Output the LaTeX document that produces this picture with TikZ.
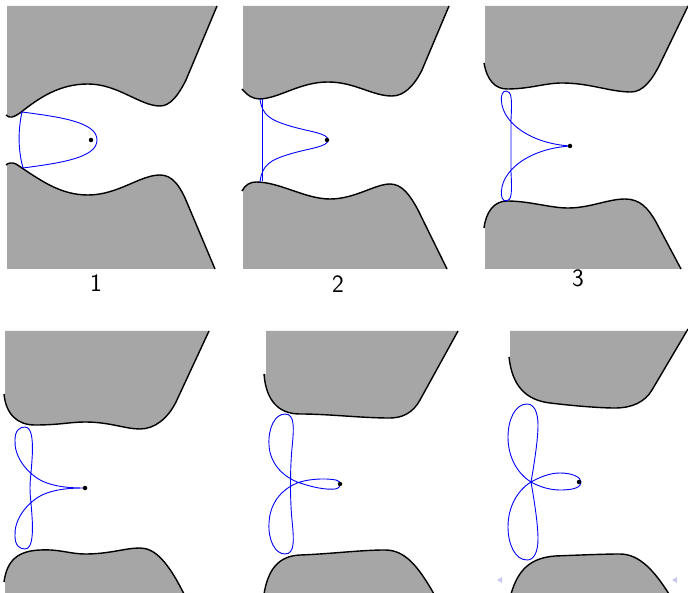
\documentclass[tikz,border=0pt]{standalone}
\usetikzlibrary{calc}
\definecolor{wallgray}{RGB}{166,166,166}
\definecolor{navcol}{RGB}{200,200,238}
\begin{document}
\begin{tikzpicture}[x=1pt,y=-1pt,
  wall/.style={fill=wallgray,draw=none},
  rim/.style={draw=black,line width=1.4pt},
  orbit/.style={draw=blue,line width=0.9pt},
  dotmark/.style={circle,fill=black,inner sep=0pt,minimum size=4.5pt},
  lab/.style={font=\sffamily\fontsize{25}{25}\selectfont,inner sep=0pt}]
\useasboundingbox (0,0) rectangle (688,593);

% ---------- panel 1 ----------
\def\uA{(6,115) .. controls (10,119) and (14,117) .. (20,113) .. controls (40,97) and (60,84) .. (88,84) .. controls (118,84) and (140,106) .. (160,106) .. controls (170,106) and (178,96) .. (186,80) -- (217,6)}
\def\lA{(6,165) .. controls (8,163) and (12,162) .. (16,164) .. controls (40,180) and (60,195) .. (88,195) .. controls (118,195) and (140,175) .. (160,175) .. controls (172,175) and (180,185) .. (188,205) -- (215,269)}
\path[wall] (7,6) -- (7,115) -- \uA -- cycle;
\draw[rim] \uA;
\path[wall] (7,269) -- (7,165) -- \lA -- cycle;
\draw[rim] \lA;
\draw[orbit] (22,112) .. controls (60,117) and (97,122) .. (97,140) .. controls (97,158) and (60,163) .. (23,168) .. controls (18,150) and (18,130) .. (22,112) -- cycle;
\node[dotmark] (d1) at (91,140) {};
\node[lab] (l1) at (96,283) {1};

% ---------- panel 2 ----------
\def\uB{(242,89) .. controls (248,96) and (253,99) .. (260,99) .. controls (280,98) and (300,82) .. (328,82) .. controls (355,82) and (372,96) .. (392,96) .. controls (404,96) and (414,86) .. (422,70) -- (449,6)}
\def\lB{(242,191) .. controls (245,185) and (250,182) .. (256,182) .. controls (280,182) and (305,199) .. (330,199) .. controls (355,199) and (375,184) .. (390,184) .. controls (402,184) and (410,195) .. (418,210) -- (447,269)}
\path[wall] (243,6) -- (243,89) -- \uB -- cycle;
\draw[rim] \uB;
\path[wall] (243,269) -- (243,191) -- \lB -- cycle;
\draw[rim] \lB;
\draw[orbit] (262,99) -- (262,181);
\draw[orbit] (260,99) .. controls (262,115) and (270,120) .. (290,126) .. controls (310,132) and (328,133) .. (328,140) .. controls (328,147) and (310,148) .. (290,154) .. controls (270,160) and (262,165) .. (260,182);
\node[dotmark] (d2) at (327,140) {};
\node[lab] (l2) at (338,284) {2};

% ---------- panel 3 ----------
\def\uC{(484,63) .. controls (487,80) and (495,89) .. (507,89) .. controls (530,89) and (545,83) .. (562,83) .. controls (590,83) and (610,92) .. (631,92) .. controls (643,92) and (652,80) .. (660,64) -- (688,6)}
\def\lC{(484,228) .. controls (486,212) and (494,201) .. (507,201) .. controls (530,201) and (550,208) .. (568,208) .. controls (590,208) and (608,199) .. (625,199) .. controls (640,199) and (648,208) .. (656,222) -- (681,269)}
\path[wall] (485,6) -- (485,63) -- \uC -- cycle;
\draw[rim] \uC;
\path[wall] (485,269) -- (485,228) -- \lC -- cycle;
\draw[rim] \lC;
\draw[orbit] (570,146) .. controls (540,144) and (518,132) .. (508,118) .. controls (500,108) and (499,91) .. (506,91) .. controls (512,91) and (512,100) .. (511,120) -- (511,172) .. controls (512,192) and (512,201) .. (506,201) .. controls (499,201) and (500,184) .. (508,174) .. controls (518,160) and (540,148) .. (570,146);
\node[dotmark] (d3) at (570,146) {};
\node[lab] (l3) at (578,278) {3};

% ---------- panel 4 ----------
\def\uD{(4,394) .. controls (6,415) and (18,425) .. (35,425) .. controls (60,425) and (70,422) .. (85,422) .. controls (110,422) and (125,429) .. (140,429) .. controls (155,429) and (168,418) .. (176,402) -- (209,331)}
\def\lD{(4,582) .. controls (7,560) and (18,551) .. (40,550) .. controls (60,549) and (70,554) .. (85,554) .. controls (110,554) and (125,548) .. (140,548) .. controls (155,548) and (168,562) .. (184,594)}
\path[wall] (5,331) -- (5,394) -- \uD -- cycle;
\draw[rim] \uD;
\path[wall] (5,594) -- (5,582) -- \lD -- cycle;
\draw[rim] \lD;
\draw[orbit] (85,488) .. controls (70,488) and (55,487) .. (42,481) .. controls (25,472) and (14,455) .. (15,440) .. controls (15,430) and (20,427) .. (25,427) .. controls (33,427) and (33,445) .. (32,460) .. controls (31,475) and (30,480) .. (30,488) .. controls (30,496) and (31,501) .. (32,516) .. controls (33,531) and (33,549) .. (25,549) .. controls (20,549) and (15,546) .. (15,536) .. controls (14,521) and (25,504) .. (42,495) .. controls (55,489) and (70,488) .. (85,488);
\node[dotmark] (d4) at (85,488) {};

% ---------- panel 5 ----------
\def\uE{(264,374) .. controls (266,400) and (278,414) .. (300,414) .. controls (330,414) and (360,418) .. (390,418) .. controls (402,418) and (413,413) .. (420,400) -- (458,331)}
\def\lE{(264,594) .. controls (268,570) and (278,556) .. (300,555) .. controls (330,554) and (360,550) .. (385,550) .. controls (405,550) and (418,566) .. (434,594)}
\path[wall] (266,331) -- (266,374) -- \uE -- cycle;
\draw[rim] \uE;
\path[wall] (266,594) -- \lE -- cycle;
\draw[rim] \lE;
\draw[orbit] (285,414) .. controls (275,414) and (268,428) .. (269,445) .. controls (270,465) and (285,478) .. (300,483) .. controls (312,487) and (325,490) .. (335,489) .. controls (342,488) and (342,481) .. (336,480) .. controls (325,478) and (310,479) .. (300,482) .. controls (285,487) and (270,500) .. (269,523) .. controls (268,540) and (275,554) .. (285,554) .. controls (295,554) and (294,540) .. (292,520) .. controls (290,500) and (290,470) .. (292,448) .. controls (294,428) and (295,414) .. (285,414) -- cycle;
\node[dotmark] (d5) at (340,484) {};

% ---------- panel 6 ----------
\def\uF{(509,357) .. controls (512,385) and (525,400) .. (550,403) .. controls (575,406) and (600,408) .. (615,408) .. controls (632,408) and (645,402) .. (652,390) -- (688,329)}
\def\lF{(511,594) .. controls (518,570) and (530,558) .. (555,556) .. controls (580,555) and (605,554) .. (620,554) .. controls (640,554) and (655,572) .. (669,594)}
\path[wall] (510,331) -- (510,357) -- \uF -- (688,331) -- cycle;
\draw[rim] \uF;
\path[wall] (511,594) -- \lF -- cycle;
\draw[rim] \lF;
\draw[orbit] (531,482) .. controls (534,465) and (538,440) .. (538,425) .. controls (538,412) and (534,404) .. (527,404) .. controls (515,404) and (508,420) .. (508,437) .. controls (508,458) and (518,474) .. (531,482) .. controls (540,487) and (550,490) .. (560,490) .. controls (575,490) and (581,487) .. (581,482) .. controls (581,477) and (572,473) .. (560,473) .. controls (550,473) and (540,477) .. (531,482) .. controls (518,490) and (508,506) .. (508,527) .. controls (508,544) and (515,560) .. (527,560) .. controls (534,560) and (538,552) .. (538,539) .. controls (538,524) and (534,499) .. (531,482) -- cycle;
\node[dotmark] (d6) at (579,482) {};

% navigation marks
\fill[navcol] (497,580) -- (502,577) -- (502,583) -- cycle;
\fill[navcol] (672,580) -- (677,577) -- (677,583) -- cycle;
\end{tikzpicture}
\end{document}
